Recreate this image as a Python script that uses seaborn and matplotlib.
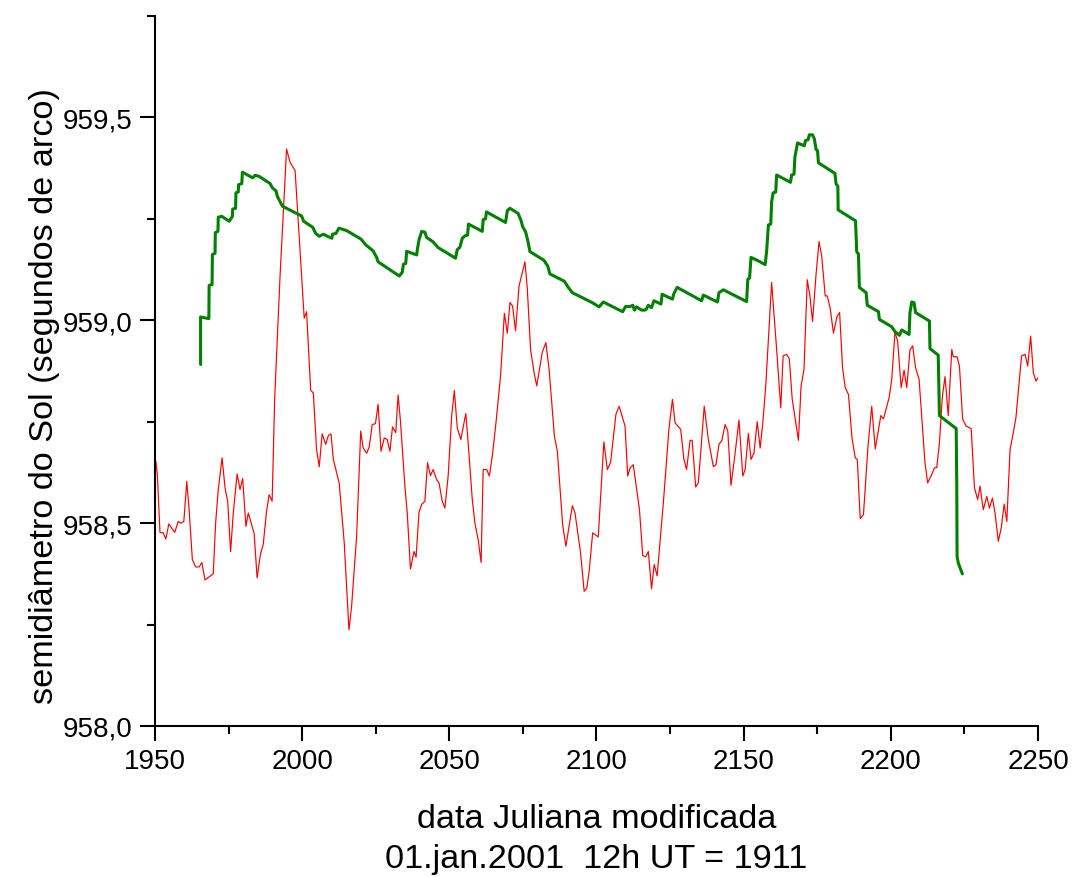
import numpy as np
import pandas as pd
import seaborn as sns
import matplotlib.pyplot as plt
from matplotlib.ticker import MultipleLocator, FuncFormatter


# red series: daily semidiameter values
red_t = [1950.3, 1950.8, 1951.7, 1952.8, 1953.7, 1954.7, 1956.7, 1957.9, 1958.8, 1959.8,
         1960.8, 1961.6, 1962.7, 1963.8, 1965.0, 1965.9, 1967.0, 1969.8, 1970.6, 1971.5,
         1972.8, 1973.8, 1974.7, 1975.7, 1976.6, 1977.9, 1978.9, 1979.8, 1980.9, 1981.7,
         1983.7, 1984.7, 1985.8, 1986.8, 1987.9, 1988.8, 1989.8, 1990.7, 1992.5, 1994.7,
         1995.9, 1997.6, 2000.7, 2001.5, 2002.9, 2003.8, 2004.9, 2005.8, 2006.8, 2008.0,
         2008.9, 2009.8, 2010.6, 2012.6, 2014.3, 2015.9, 2016.8, 2018.5, 2019.9, 2020.7,
         2021.9, 2022.8, 2023.8, 2024.9, 2025.8, 2026.8, 2027.9, 2028.9, 2029.8, 2030.7,
         2031.8, 2032.6, 2033.4, 2034.9, 2035.7, 2036.8, 2038.0, 2038.7, 2039.7, 2040.6,
         2041.7, 2042.6, 2043.6, 2044.5, 2045.7, 2046.5, 2047.6, 2048.5, 2049.6, 2050.8,
         2051.7, 2052.7, 2053.9, 2055.6, 2056.4, 2057.8, 2058.7, 2059.8, 2060.8, 2061.5,
         2062.7, 2063.6, 2064.6, 2065.9, 2067.4, 2068.7, 2069.7, 2070.6, 2071.5, 2072.5,
         2073.7, 2075.7, 2076.5, 2077.6, 2078.8, 2079.7, 2081.6, 2082.8, 2083.9, 2085.7,
         2086.7, 2088.5, 2089.6, 2091.8, 2092.7, 2094.6, 2095.8, 2096.7, 2097.5, 2098.7,
         2100.6, 2102.5, 2103.7, 2104.8, 2106.6, 2107.7, 2109.7, 2110.6, 2111.4, 2112.5,
         2114.6, 2115.7, 2116.7, 2117.6, 2118.7, 2119.6, 2120.6, 2122.7, 2124.6, 2125.8,
         2126.7, 2128.6, 2129.7, 2130.6, 2131.8, 2132.5, 2133.7, 2134.6, 2136.6, 2138.0,
         2139.7, 2140.6, 2141.6, 2142.6, 2143.7, 2144.6, 2145.7, 2147.1, 2148.4, 2149.7,
         2150.5, 2151.6, 2152.5, 2153.5, 2154.6, 2155.6, 2156.5, 2157.5, 2159.5, 2161.2,
         2162.6, 2163.4, 2164.6, 2165.5, 2166.5, 2168.6, 2169.5, 2170.5, 2171.6, 2172.5,
         2173.4, 2174.6, 2175.6, 2176.5, 2177.7, 2178.4, 2179.4, 2180.5, 2181.7, 2182.6,
         2183.6, 2184.5, 2185.6, 2186.8, 2187.9, 2188.6, 2189.6, 2190.7, 2192.2, 2193.5,
         2194.7, 2196.6, 2197.5, 2199.4, 2200.3, 2201.4, 2202.3, 2203.5, 2204.5, 2205.4,
         2206.5, 2207.4, 2208.4, 2209.6, 2210.5, 2211.6, 2212.5, 2213.9, 2214.8, 2215.6,
         2216.5, 2217.5, 2218.4, 2219.5, 2220.7, 2221.2, 2222.5, 2223.3, 2224.4, 2225.6,
         2227.3, 2228.4, 2229.5, 2230.3, 2231.4, 2232.6, 2233.5, 2234.5, 2235.4, 2236.5,
         2237.5, 2238.5, 2239.4, 2240.5, 2241.6, 2242.5, 2244.4, 2245.6, 2246.5, 2247.5,
         2248.4, 2249.3, 2250.0]
red_v = [958.653, 958.620, 958.477, 958.476, 958.461, 958.498, 958.477, 958.504, 958.500, 958.504,
         958.603, 958.533, 958.410, 958.392, 958.392, 958.403, 958.360, 958.375, 958.500, 958.583,
         958.661, 958.587, 958.554, 958.430, 958.525, 958.621, 958.583, 958.610, 958.492, 958.525,
         958.474, 958.365, 958.422, 958.449, 958.529, 958.570, 958.554, 958.813, 959.110, 959.422,
         959.389, 959.369, 959.005, 959.021, 958.827, 958.821, 958.681, 958.639, 958.720, 958.694,
         958.716, 958.720, 958.657, 958.598, 958.451, 958.237, 958.295, 958.467, 958.727, 958.686,
         958.672, 958.688, 958.743, 958.745, 958.793, 958.677, 958.710, 958.706, 958.677, 958.737,
         958.723, 958.816, 958.751, 958.591, 958.525, 958.387, 958.430, 958.416, 958.527, 958.546,
         958.554, 958.649, 958.617, 958.632, 958.607, 958.599, 958.554, 958.537, 958.616, 958.764,
         958.827, 958.735, 958.706, 958.770, 958.698, 958.558, 958.500, 958.459, 958.403, 958.632,
         958.632, 958.616, 958.665, 958.751, 958.862, 959.017, 958.968, 959.044, 959.035, 958.974,
         959.085, 959.144, 959.077, 958.928, 958.871, 958.838, 958.922, 958.945, 958.879, 958.714,
         958.677, 958.496, 958.443, 958.543, 958.525, 958.426, 958.332, 958.340, 958.381, 958.476,
         958.466, 958.700, 958.632, 958.650, 958.768, 958.788, 958.739, 958.616, 958.636, 958.644,
         958.533, 958.420, 958.417, 958.430, 958.338, 958.398, 958.370, 958.549, 958.731, 958.805,
         958.747, 958.731, 958.657, 958.632, 958.704, 958.704, 958.589, 958.599, 958.788, 958.706,
         958.639, 958.644, 958.694, 958.704, 958.743, 958.727, 958.593, 958.673, 958.754, 958.616,
         958.632, 958.721, 958.657, 958.673, 958.750, 958.685, 958.747, 958.838, 959.093, 958.928,
         958.784, 958.912, 958.916, 958.905, 958.805, 958.704, 958.838, 958.879, 959.100, 959.060,
         958.997, 959.114, 959.194, 959.159, 959.060, 959.060, 959.029, 958.968, 959.009, 959.019,
         958.883, 958.834, 958.817, 958.710, 958.661, 958.657, 958.511, 958.521, 958.686, 958.788,
         958.683, 958.765, 958.757, 958.809, 958.854, 958.970, 958.949, 958.834, 958.877, 958.834,
         958.927, 958.937, 958.883, 958.854, 958.760, 958.649, 958.599, 958.620, 958.636, 958.637,
         958.698, 958.812, 958.861, 958.765, 958.928, 958.910, 958.910, 958.887, 958.756, 958.739,
         958.733, 958.587, 958.558, 958.591, 958.533, 958.566, 958.537, 958.562, 958.525, 958.455,
         958.488, 958.547, 958.504, 958.681, 958.723, 958.760, 958.912, 958.916, 958.887, 958.961,
         958.871, 958.850, 958.858]

# green series: running mean
green_t = [1965.5, 1965.5, 1968.3, 1968.4, 1969.4, 1969.5, 1970.4, 1970.5, 1971.4, 1971.5,
           1972.7, 1975.2, 1976.3, 1976.4, 1977.4, 1977.5, 1978.3, 1978.4, 1979.5, 1979.7,
           1983.2, 1984.0, 1985.3, 1989.1, 1989.9, 1991.1, 1991.6, 1993.3, 1999.8, 2000.5,
           2003.6, 2004.6, 2005.8, 2007.2, 2008.3, 2010.1, 2010.3, 2011.5, 2012.5, 2015.1,
           2020.0, 2021.6, 2024.1, 2025.3, 2025.8, 2033.0, 2034.0, 2034.4, 2035.2, 2035.5,
           2038.9, 2039.2, 2039.7, 2040.6, 2041.7, 2042.3, 2044.5, 2046.2, 2052.1, 2052.7,
           2053.6, 2054.4, 2055.3, 2056.2, 2056.5, 2061.2, 2061.5, 2062.3, 2062.6, 2069.1,
           2069.7, 2070.6, 2073.4, 2074.4, 2074.9, 2075.9, 2076.6, 2077.4, 2082.1, 2083.4,
           2084.2, 2089.1, 2090.4, 2091.8, 2098.4, 2100.9, 2102.3, 2108.9, 2109.9, 2111.5,
           2112.3, 2112.9, 2113.6, 2115.3, 2116.5, 2117.0, 2117.6, 2118.7, 2119.5, 2121.9,
           2122.3, 2125.8, 2126.2, 2127.4, 2135.7, 2136.3, 2141.1, 2141.6, 2143.1, 2151.0,
           2151.4, 2152.0, 2152.5, 2155.6, 2157.3, 2157.8, 2158.4, 2159.2, 2159.5, 2160.0,
           2160.9, 2161.2, 2165.9, 2166.3, 2167.1, 2167.4, 2168.3, 2170.6, 2171.0, 2171.9,
           2172.3, 2173.4, 2174.0, 2174.6, 2175.1, 2175.4, 2181.0, 2181.4, 2182.0, 2182.1,
           2188.0, 2188.4, 2189.0, 2189.3, 2191.6, 2192.0, 2195.8, 2196.1, 2200.3, 2201.4,
           2202.9, 2203.7, 2206.2, 2206.5, 2207.1, 2207.9, 2208.4, 2213.1, 2213.3, 2216.1,
           2216.5, 2222.2, 2222.4, 2222.5, 2222.9, 2223.5, 2224.3]
green_v = [958.891, 959.008, 959.004, 959.086, 959.088, 959.162, 959.165, 959.216, 959.219, 959.254,
           959.256, 959.244, 959.256, 959.274, 959.276, 959.314, 959.316, 959.334, 959.337, 959.365,
           959.351, 959.357, 959.355, 959.337, 959.326, 959.319, 959.305, 959.281, 959.257, 959.244,
           959.229, 959.214, 959.207, 959.212, 959.208, 959.202, 959.212, 959.214, 959.227, 959.221,
           959.200, 959.186, 959.171, 959.155, 959.144, 959.109, 959.118, 959.138, 959.140, 959.170,
           959.161, 959.177, 959.198, 959.219, 959.217, 959.204, 959.193, 959.179, 959.153, 959.174,
           959.180, 959.202, 959.208, 959.210, 959.237, 959.219, 959.248, 959.250, 959.267, 959.241,
           959.270, 959.276, 959.263, 959.245, 959.231, 959.218, 959.198, 959.169, 959.148, 959.134,
           959.114, 959.096, 959.081, 959.068, 959.044, 959.033, 959.045, 959.021, 959.034, 959.034,
           959.037, 959.025, 959.033, 959.025, 959.025, 959.028, 959.037, 959.031, 959.048, 959.040,
           959.064, 959.052, 959.064, 959.081, 959.048, 959.062, 959.045, 959.068, 959.075, 959.046,
           959.101, 959.104, 959.155, 959.144, 959.137, 959.170, 959.235, 959.237, 959.292, 959.314,
           959.316, 959.358, 959.340, 959.358, 959.360, 959.402, 959.437, 959.430, 959.443, 959.445,
           959.457, 959.457, 959.447, 959.421, 959.418, 959.388, 959.362, 959.336, 959.330, 959.272,
           959.245, 959.169, 959.163, 959.081, 959.068, 959.037, 959.021, 959.002, 958.984, 958.972,
           958.963, 958.976, 958.965, 959.019, 959.045, 959.043, 959.019, 958.998, 958.930, 958.914,
           958.765, 958.733, 958.591, 958.418, 958.402, 958.390, 958.375]

df_red = pd.DataFrame({"mjd": red_t, "sd": red_v})
df_green = pd.DataFrame({"mjd": green_t, "sd": green_v})

sns.set_theme(style="ticks")
plt.rcParams['font.family'] = ['Liberation Sans', 'DejaVu Sans']
plt.rcParams['text.color'] = 'black'
plt.rcParams['axes.labelcolor'] = 'black'

fig = plt.figure(figsize=(10.74, 8.78), dpi=100)
ax = fig.add_axes([0.1443, 0.172, 0.8222, 0.8087])

sns.lineplot(data=df_red, x="mjd", y="sd", ax=ax, color="#ff0000", linewidth=0.85,
             estimator=None, sort=False)
sns.lineplot(data=df_green, x="mjd", y="sd", ax=ax, color="#008000", linewidth=2.2,
             estimator=None, sort=False)

ax.set_xlim(1950, 2250)
ax.set_ylim(958.0, 959.75)

ax.xaxis.set_major_locator(MultipleLocator(50))
ax.xaxis.set_minor_locator(MultipleLocator(25))
ax.yaxis.set_major_locator(MultipleLocator(0.5))
ax.yaxis.set_minor_locator(MultipleLocator(0.25))
ax.yaxis.set_major_formatter(FuncFormatter(lambda v, p: f"{v:.1f}".replace(".", ",")))

for s in ["top", "right"]:
    ax.spines[s].set_visible(False)
for s in ["left", "bottom"]:
    ax.spines[s].set_linewidth(1.5)
    ax.spines[s].set_color("black")

ax.tick_params(which="major", direction="out", length=10.5, width=1.5, labelsize=20,
               colors="black")
ax.tick_params(axis="x", which="major", pad=5)
ax.tick_params(axis="y", which="major", pad=5.5)
ax.tick_params(which="minor", direction="out", length=5.5, width=1.5, colors="black")

ax.set_xlabel("data Juliana modificada\n01.jan.2001  12h UT = 1911", fontsize=24.7,
              linespacing=1.37, labelpad=21)
ax.set_ylabel("semidiâmetro do Sol (segundos de arco)", fontsize=24.7)
ax.yaxis.set_label_coords(-0.107, 0.466)

fig.savefig("out.png", dpi=100)
